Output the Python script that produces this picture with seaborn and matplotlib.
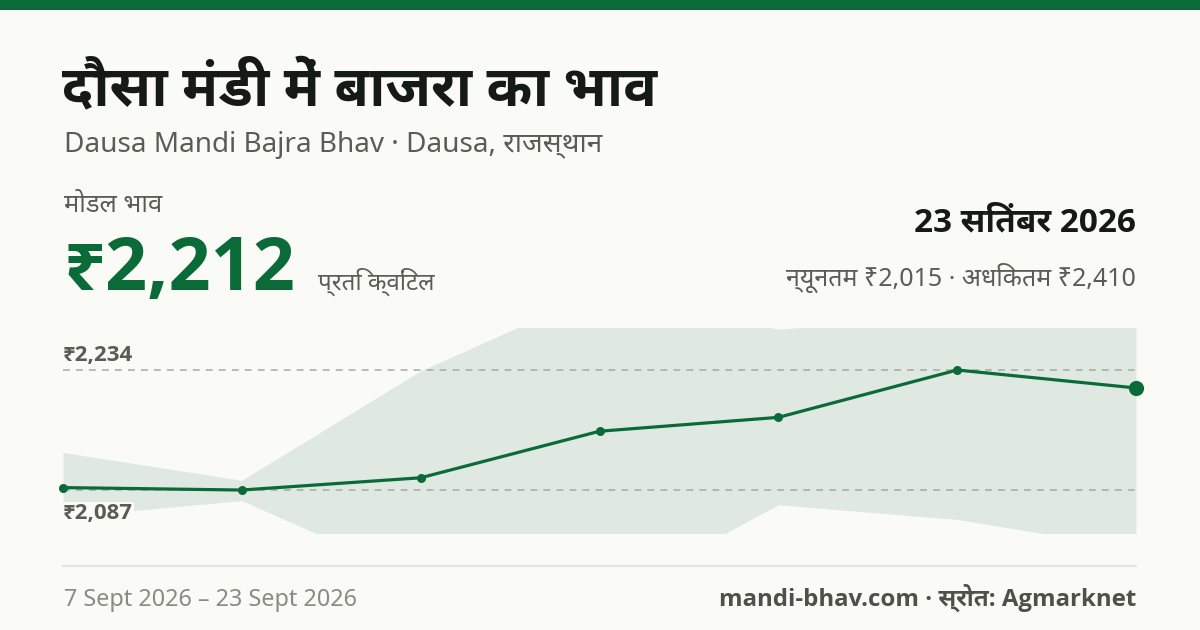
import matplotlib
matplotlib.use("Agg")
import matplotlib.pyplot as plt
import seaborn as sns
import pandas as pd

# ---- data ----
dates = ["7 Sept", "9 Sept", "12 Sept", "15 Sept", "17 Sept", "20 Sept", "23 Sept"]
modal_price = [2090, 2087, 2102, 2159, 2176, 2234, 2212]
min_price = [2054, 2074, 1977, 1951, 2069, 2051, 2015]
max_price = [2133, 2099, 2233, 2331, 2284, 2300, 2410]

title = "दौसा मंडी में बाजरा का भाव"
subtitle = "Dausa Mandi Bajra Bhav · Dausa, राजस्थान"
modal_label = "मोडल भाव"
big_value = "₹2,212"
unit = "प्रति क्विंटल"
date_label = "23 सितंबर 2026"
range_label = "न्यूनतम ₹2,015 · अधिकतम ₹2,410"
footer_left = "7 Sept 2026 – 23 Sept 2026"
footer_right = "mandi-bhav.com · स्रोत: Agmarknet"

df = pd.DataFrame({"idx": range(len(dates)), "date": dates,
                   "modal": modal_price, "lo": min_price, "hi": max_price})

sns.set_theme(style="white")
REG = ["Noto Sans", "Noto Sans Devanagari", "DejaVu Sans"]
BOLD = ["Open Sans", "Noto Sans Devanagari UI", "DejaVu Sans"]
DEVA_BOLD = ["Noto Sans Devanagari UI", "Open Sans", "DejaVu Sans"]
DEVA_REG = ["Noto Sans Devanagari", "Noto Sans", "DejaVu Sans"]
plt.rcParams["font.family"] = REG

BG = "#fafaf6"
GREEN = "#0b6b38"
BAND = "#dfe9e2"
DARK = "#161a15"
GRAY = "#5b5d54"
LIGHTGRAY = "#8a8c81"

W, H = 1200, 630
fig = plt.figure(figsize=(W / 100, H / 100), dpi=100, facecolor=BG)

def fx(x):
    return x / W

def fy(y):
    return 1 - y / H

# top stripe
fig.add_artist(plt.Rectangle((0, fy(10)), 1, 10 / H, transform=fig.transFigure,
                             color=GREEN, lw=0))

# chart axes
left, right, top, bottom = 63, 1136, 328, 533
ax = fig.add_axes([fx(left), fy(bottom), fx(right - left), (bottom - top) / H])
ax.set_facecolor("none")
ax.fill_between(df["idx"], df["lo"], df["hi"], color=BAND, lw=0, zorder=1)
sns.lineplot(data=df, x="idx", y="modal", ax=ax, color=GREEN, linewidth=2.3,
             marker="o", markersize=6.5, markeredgewidth=0, zorder=4, clip_on=False)
last = df.iloc[[-1]]
sns.scatterplot(data=last, x="idx", y="modal", ax=ax, color=GREEN, s=120,
                linewidth=0, zorder=5, clip_on=False)

vmin, vmax = min(modal_price), max(modal_price)
rng = vmax - vmin
ax.set_xlim(0, len(dates) - 1)
ax.set_ylim(vmin - 0.358 * rng, vmax + 0.35 * rng)
for v in (vmin, vmax):
    ax.axhline(v, color="#a9aaa3", lw=1.1, dashes=(4.5, 4), zorder=2)
ax.annotate(f"₹{vmax:,}", (0, vmax), xytext=(0, 6.5), textcoords="offset points",
            ha="left", va="baseline", fontsize=16, fontweight="bold",
            color=GRAY, family=BOLD)
ax.annotate(f"₹{vmin:,}", (0, vmin), xytext=(0, -9.5), textcoords="offset points",
            ha="left", va="top", fontsize=16, fontweight="bold", color=GRAY,
            family=BOLD, zorder=6,
            bbox=dict(facecolor=BG, edgecolor="none", pad=1.0))
ax.set_axis_off()
legend = ax.get_legend()
if legend:
    legend.remove()

# header texts
fig.text(fx(62), fy(105), title, fontsize=40.3, fontweight="bold", color=DARK,
         ha="left", va="baseline", family=DEVA_BOLD)
fig.text(fx(64), fy(152), subtitle, fontsize=20.1, color=GRAY, ha="left", va="baseline")
fig.text(fx(64), fy(212), modal_label, fontsize=18.4, color=GRAY, ha="left",
         va="baseline", family=DEVA_REG)
fig.text(fx(64), fy(290), big_value, fontsize=53, fontweight="bold", color=GREEN,
         ha="left", va="baseline", family=BOLD)
fig.text(fx(318), fy(290), unit, fontsize=17.4, color=GRAY, ha="left", va="baseline",
         family=DEVA_REG)
fig.text(fx(1136), fy(231), date_label, fontsize=24, fontweight="bold", color=DARK,
         ha="right", va="baseline", family=BOLD)
fig.text(fx(1136), fy(286), range_label, fontsize=18, color=GRAY, ha="right",
         va="baseline")

# footer
fig.add_artist(plt.Line2D([fx(63), fx(1136)], [fy(566), fy(566)],
                          transform=fig.transFigure, color="#e4e5de", lw=1.6))
fig.text(fx(64), fy(606), footer_left, fontsize=16.8, color=LIGHTGRAY, ha="left",
         va="baseline")
fig.text(fx(1136), fy(606), footer_right, fontsize=17.3, fontweight="bold",
         color="#4f5148", ha="right", va="baseline", family=BOLD)

fig.savefig("out.png", dpi=100, facecolor=BG)
